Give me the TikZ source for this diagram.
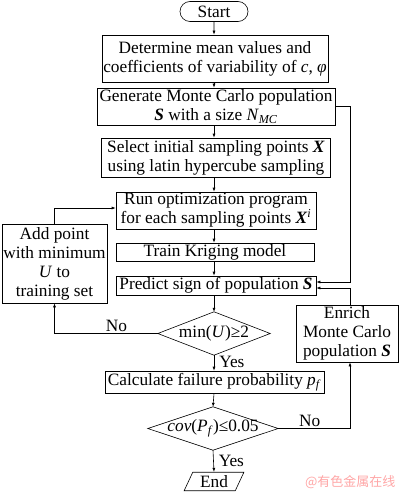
\documentclass[tikz,border=0pt]{standalone}
\usepackage{fontspec}
\setmainfont{Liberation Serif}
\newfontfamily\cjkfont{Noto Sans CJK SC}
\usepackage{tikz}
\usetikzlibrary{arrows.meta,positioning,calc,shapes.geometric,shapes.misc}

\newcommand{\bvec}[1]{\textbf{\textit{#1}}}

\begin{document}
\begin{tikzpicture}[
        x=1pt, y=-1pt,
        font=\fontsize{17.3}{19}\selectfont,
        procbox/.style={rectangle, draw=black, line width=0.6pt, align=center,
                        inner sep=0pt},
        termbox/.style={rounded rectangle, draw=black, line width=0.6pt,
                        minimum width=68pt, minimum height=20pt, inner sep=0pt},
        endbox/.style={trapezium, trapezium left angle=65, trapezium right angle=115,
                       draw=black, line width=0.6pt, minimum width=60pt,
                       minimum height=17pt, inner sep=0pt},
        decision/.style={rectangle, inner sep=0pt, align=center},
        diaborder/.style={draw=black, line width=0.6pt},
        arr/.style={-{Latex[length=4pt,width=3pt]}, line width=0.6pt},
        lbl/.style={inner sep=2pt}
    ]
        \useasboundingbox (0,0) rectangle (400,492);

        %--- Main column ---
        \node[termbox] (start) at (214,11.5) {Start};
        \node[procbox, minimum width=226pt, minimum height=47pt] (det) at (215,58.5)
            {Determine mean values and\\coefficients of variability of \textit{c}, \textit{φ}};
        \node[procbox, minimum width=238pt, minimum height=37pt] (gen) at (216,106.5)
            {Generate Monte Carlo population\\\bvec{S} with a size \textit{N}\textsubscript{\textit{MC}}};
        \node[procbox, minimum width=229pt, minimum height=39pt] (sel) at (216,157.5)
            {Select initial sampling points \bvec{X}\\using latin hypercube sampling};
        \node[procbox, minimum width=200pt, minimum height=37pt] (run) at (216,210.5)
            {Run optimization program\\for each sampling points \bvec{X}\textsuperscript{\textit{i}}};
        \node[procbox, minimum width=198pt, minimum height=18pt] (train) at (215,252)
            {Train Kriging model};
        \node[procbox, minimum width=200pt, minimum height=19pt] (pred) at (216,285.5)
            {Predict sign of population \bvec{S}};
        \node[decision, minimum width=112pt, minimum height=43pt] (dmin) at (214,333.5)
            {min(\textit{U})≥2};
        \node[procbox, minimum width=219pt, minimum height=22pt] (calc) at (214.5,382)
            {Calculate failure probability \textit{p}\textsubscript{\textit{f}}};
        \node[decision, minimum width=130pt, minimum height=43pt] (dcov) at (213,428.5)
            {\textit{cov}(\textit{P}\textsubscript{\textit{f}})≤0.05};
        \node[endbox] (end) at (214,481.5) {End};

        %--- Decision outlines ---
        \draw[diaborder] (dmin.north) -- (dmin.east) -- (dmin.south) -- (dmin.west) -- cycle;
        \draw[diaborder] (dcov.north) -- (dcov.east) -- (dcov.south) -- (dcov.west) -- cycle;

        %--- Side boxes ---
        \node[procbox, minimum width=105pt, minimum height=79pt] (add) at (54.5,263.5)
            {Add point\\with minimum\\\textit{U} to\\training set};
        \node[procbox, minimum width=102pt, minimum height=57pt] (enr) at (347,333.5)
            {Enrich\\Monte Carlo\\population \bvec{S}};

        %--- Arrows: main flow ---
        \draw[arr] (start) -- (start |- det.north);
        \draw[arr] (start |- det.south) -- (start |- gen.north);
        \draw[arr] (start |- gen.south) -- (start |- sel.north);
        \draw[arr] (start |- sel.south) -- (start |- run.north);
        \draw[arr] (start |- run.south) -- (start |- train.north);
        \draw[arr] (start |- train.south) -- (start |- pred.north);
        \draw[arr] (start |- pred.south) -- (dmin.north);
        \draw[arr] (dmin.south) -- node[lbl, right, pos=0.45, xshift=3pt] {Yes} (start |- calc.north);
        \draw[arr] (start |- calc.south) -- (dcov.north);
        \draw[arr] (dcov.south) -- node[lbl, right, pos=0.5, xshift=3pt] {Yes} (start |- end.north);

        %--- Arrows: loops ---
        \draw[arr] (dmin.west) -| node[lbl, pos=0.2, above] {No} (add.south);
        \draw[arr] (add.north) |- ([yshift=2.5pt]run.west);
        \draw[arr] (gen.east) -| ([yshift=3.5pt,xshift=3pt]enr.north |- pred.east)
            -- ([yshift=3.5pt]pred.east);
        \draw[arr] ([xshift=3pt]enr.north) |- ([yshift=-2.5pt]pred.east);
        \draw[arr] (dcov.east) -| node[lbl, pos=0.22, above] {No} ([xshift=3pt]enr.south);

        %--- Watermark ---
        \node[font=\cjkfont\fontsize{13}{15}\selectfont, text=red!35, anchor=east]
            (mark) at (399,482) {@有色金属在线};
    \end{tikzpicture}
\end{document}
